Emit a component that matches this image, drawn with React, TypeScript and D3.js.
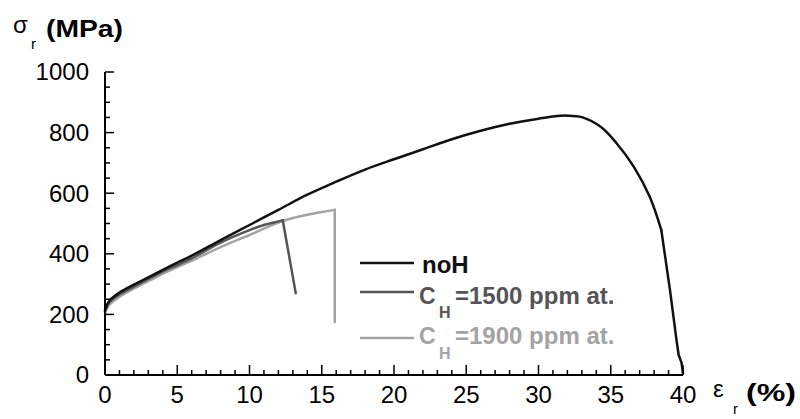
import React from 'react';
import * as d3 from 'd3';

// stress-strain curves (strain in %, stress in MPa)
const noHStrain = [0, 0.3, 1, 2, 3, 4, 5, 6, 8, 10, 12, 14, 16, 18, 20, 22, 24, 26, 28, 30, 31, 32, 33, 34.3, 35.4, 36.6, 37.7, 38.5, 39.1, 39.55, 39.7, 39.9, 40];
const noHStress = [215, 245, 272, 298, 322, 347, 371, 394, 445, 495, 545, 595, 638, 678, 712, 745, 778, 806, 829, 846, 853, 856, 851, 819, 765, 687, 588, 478, 280, 115, 66, 40, 5];

const h1500Strain = [0, 0.3, 1, 2, 3, 4, 5, 6, 8, 10, 11, 12, 12.3, 13.2];
const h1500Stress = [210, 240, 266, 292, 317, 341, 363, 385, 437, 478, 495, 507, 511, 270];

const h1900Strain = [0, 0.3, 1, 2, 3, 4, 5, 6, 8, 10, 12, 13, 14, 15, 15.9, 15.9];
const h1900Stress = [205, 232, 258, 285, 310, 334, 356, 377, 422, 462, 503, 518, 529, 538, 545, 175];

const xTicks = [0, 5, 10, 15, 20, 25, 30, 35, 40];
const yTicks = [0, 200, 400, 600, 800, 1000];

const W = 800;
const H = 419;
const FONT = '"Liberation Sans", Arial, sans-serif';

const App: React.FC = () => {
  const x = d3.scaleLinear().domain([0, 40]).range([105, 683]);
  const y = d3.scaleLinear().domain([0, 1000]).range([375, 72]);

  const smooth = d3.line<[number, number]>()
    .x(d => x(d[0]))
    .y(d => y(d[1]))
    .curve(d3.curveCatmullRom.alpha(0.5));
  const straight = d3.line<[number, number]>()
    .x(d => x(d[0]))
    .y(d => y(d[1]));

  const zip = (a: number[], b: number[]) => a.map((v, i) => [v, b[i]] as [number, number]);

  // brk: index where the fracture part starts (drawn straight)
  const series = [
    { strain: h1900Strain, stress: h1900Stress, color: '#a3a3a3', brk: 14 },
    { strain: h1500Strain, stress: h1500Stress, color: '#555555', brk: 12 },
    { strain: noHStrain, stress: noHStress, color: '#111111', brk: 27 },
  ];

  const xMinor = d3.range(0, 41, 1).filter(v => v % 5 !== 0);
  const yMinor = d3.range(0, 1001, 50).filter(v => v % 200 !== 0);

  return (
    <svg width={W} height={H} style={{ position: 'absolute', left: 0, top: 0, background: '#fff' }} fontFamily={FONT}>
      {/* curves */}
      {series.map((s, i) => {
        const pts = zip(s.strain, s.stress);
        return (
          <g key={i} fill="none" stroke={s.color} strokeWidth={2.5} strokeLinejoin="round" strokeLinecap="round">
            <path d={smooth(pts.slice(0, s.brk + 1)) || ''} />
            <path d={straight(pts.slice(s.brk)) || ''} />
          </g>
        );
      })}

      {/* axes */}
      <line x1={x(0)} x2={x(0)} y1={y(1000)} y2={y(0)} stroke="#000" strokeWidth={2} />
      <line x1={x(0)} x2={x(40)} y1={y(0)} y2={y(0)} stroke="#000" strokeWidth={2} />

      {yTicks.map(t => (
        <g key={t}>
          <line x1={x(0)} x2={x(0) + 9} y1={y(t)} y2={y(t)} stroke="#000" strokeWidth={1.5} />
          <text x={89} y={y(t)} dy="0.35em" textAnchor="end" fontSize={24}>{t}</text>
        </g>
      ))}
      {yMinor.map(t => (
        <line key={t} x1={x(0)} x2={x(0) + 5} y1={y(t)} y2={y(t)} stroke="#000" strokeWidth={1.5} />
      ))}

      {xTicks.map(t => (
        <g key={t}>
          <line x1={x(t)} x2={x(t)} y1={y(0)} y2={y(0) - 10} stroke="#000" strokeWidth={1.5} />
          <text x={x(t)} y={403} textAnchor="middle" fontSize={24}>{t}</text>
        </g>
      ))}
      {xMinor.map(t => (
        <line key={t} x1={x(t)} x2={x(t)} y1={y(0)} y2={y(0) - 5} stroke="#000" strokeWidth={1.5} />
      ))}

      {/* axis titles */}
      <text x={13} y={33} fontSize={24}>σ</text>
      <text x={31} y={49} fontSize={15}>r</text>
      <text x={46} y={37} fontSize={24} fontWeight="bold" textLength={77} lengthAdjust="spacingAndGlyphs">(MPa)</text>

      <text x={713} y={397} fontSize={24}>ε</text>
      <text x={733} y={414} fontSize={15}>r</text>
      <text x={746} y={401} fontSize={24} fontWeight="bold" textLength={50} lengthAdjust="spacingAndGlyphs">(%)</text>

      {/* legend */}
      <line x1={360} x2={414} y1={263} y2={263} stroke="#111111" strokeWidth={2.5} />
      <text x={422} y={273} fontSize={24} fontWeight="bold" fill="#111111">noH</text>

      <line x1={360} x2={414} y1={292} y2={292} stroke="#555555" strokeWidth={2.5} />
      <text x={419} y={304} fontSize={23} fontWeight="bold" fill="#555555">C</text>
      <text x={439} y={318} fontSize={16} fontWeight="bold" fill="#555555">H</text>
      <text x={455} y={304} fontSize={24} fontWeight="bold" fill="#555555">=1500 ppm at.</text>

      <line x1={360} x2={414} y1={338} y2={338} stroke="#a3a3a3" strokeWidth={2.5} />
      <text x={419} y={344} fontSize={23} fontWeight="bold" fill="#a3a3a3">C</text>
      <text x={439} y={359} fontSize={16} fontWeight="bold" fill="#a3a3a3">H</text>
      <text x={455} y={344} fontSize={24} fontWeight="bold" fill="#a3a3a3">=1900 ppm at.</text>
    </svg>
  );
};

export default App;
